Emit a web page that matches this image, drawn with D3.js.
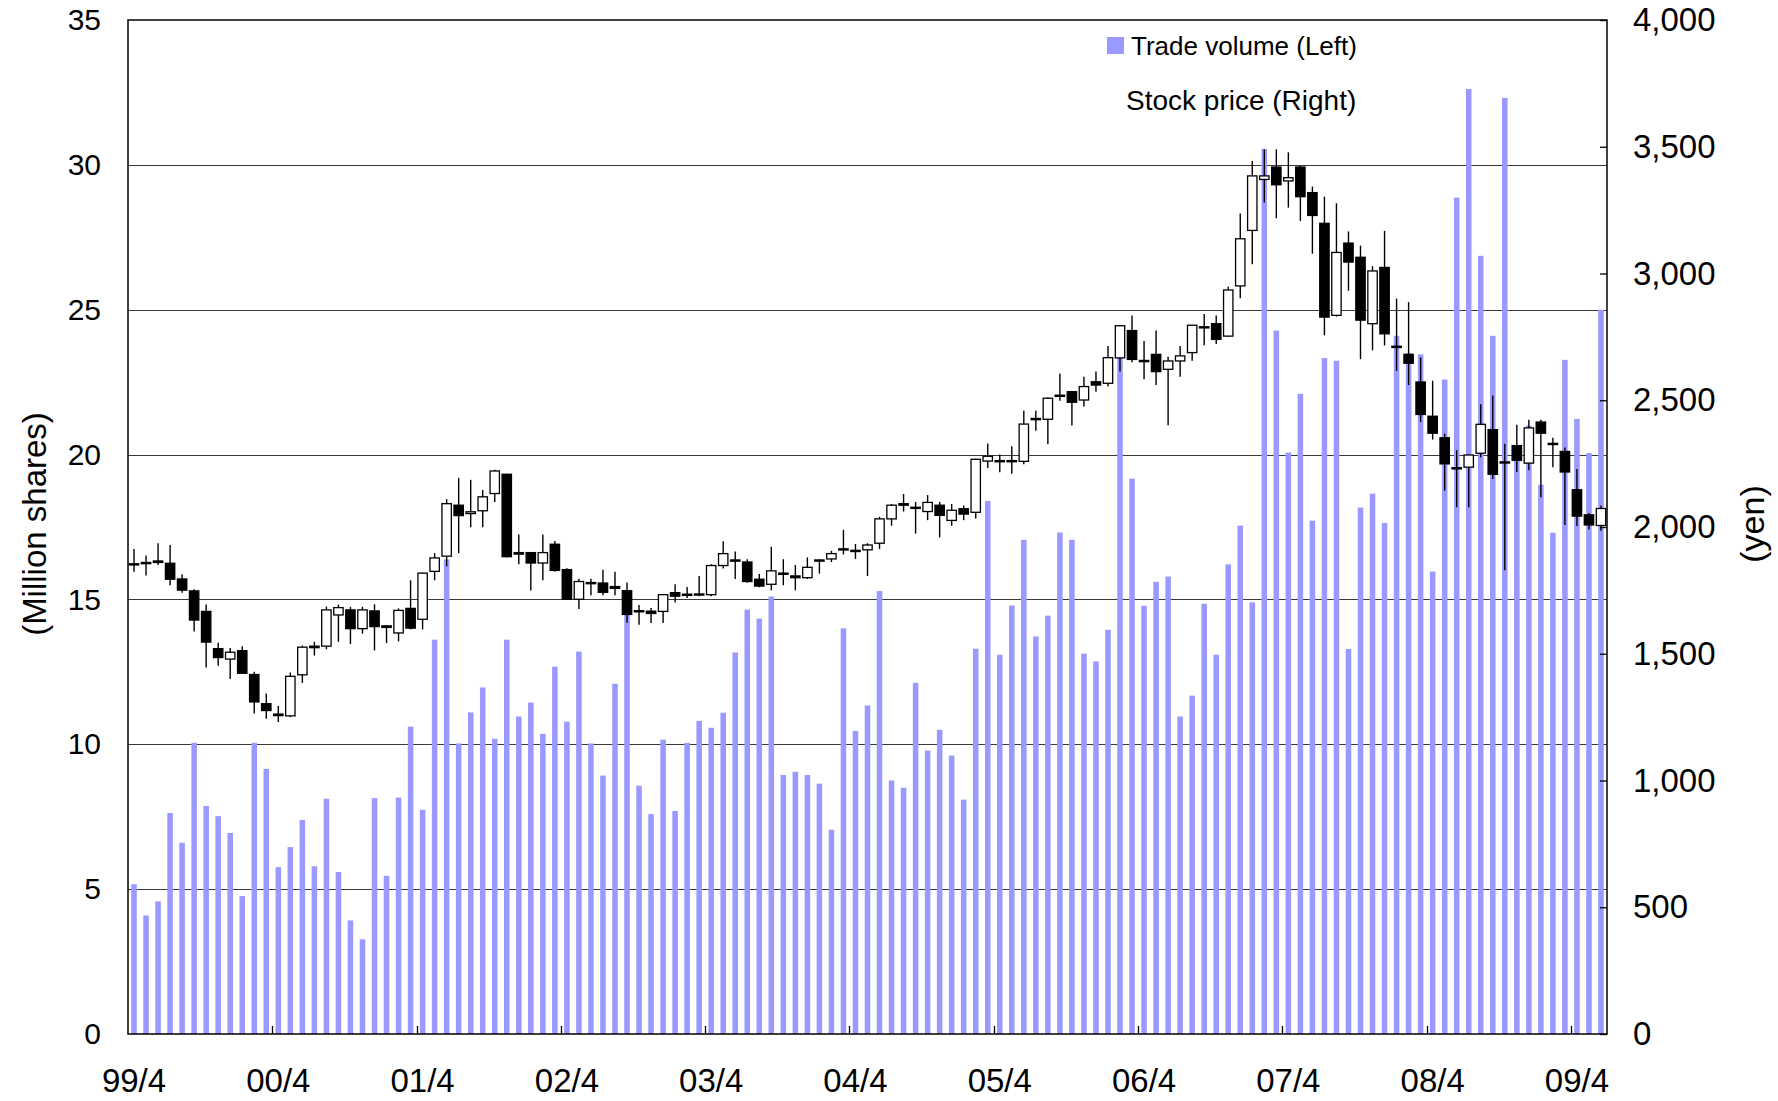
<!DOCTYPE html>
<html>
<head>
<meta charset="utf-8">
<script src="https://cdn.jsdelivr.net/npm/d3@7"></script>
<style>
  html, body { margin: 0; padding: 0; background: #fff; }
  svg { display: block; }
  text { font-family: "Liberation Sans", Arial, sans-serif; fill: #000; }
</style>
</head>
<body>
<svg id="chart" width="1778" height="1101"></svg>
<script>
// Monthly categories, April 1999 – June 2009
const months = [
  "99/4","99/5","99/6","99/7","99/8","99/9","99/10","99/11","99/12",
  "00/1","00/2","00/3","00/4","00/5","00/6","00/7","00/8","00/9","00/10","00/11","00/12",
  "01/1","01/2","01/3","01/4","01/5","01/6","01/7","01/8","01/9","01/10","01/11","01/12",
  "02/1","02/2","02/3","02/4","02/5","02/6","02/7","02/8","02/9","02/10","02/11","02/12",
  "03/1","03/2","03/3","03/4","03/5","03/6","03/7","03/8","03/9","03/10","03/11","03/12",
  "04/1","04/2","04/3","04/4","04/5","04/6","04/7","04/8","04/9","04/10","04/11","04/12",
  "05/1","05/2","05/3","05/4","05/5","05/6","05/7","05/8","05/9","05/10","05/11","05/12",
  "06/1","06/2","06/3","06/4","06/5","06/6","06/7","06/8","06/9","06/10","06/11","06/12",
  "07/1","07/2","07/3","07/4","07/5","07/6","07/7","07/8","07/9","07/10","07/11","07/12",
  "08/1","08/2","08/3","08/4","08/5","08/6","08/7","08/8","08/9","08/10","08/11","08/12",
  "09/1","09/2","09/3","09/4","09/5","09/6"
];

// Monthly trade volume (million shares)
const volume = [
  5.17, 4.09, 4.58, 7.63, 6.60, 10.05, 7.87, 7.52, 6.94,
  4.76, 10.05, 9.15, 5.76, 6.45, 7.39, 5.79, 8.12, 5.59, 3.92, 3.27, 8.14,
  5.46, 8.16, 10.61, 7.74, 13.61, 16.38, 10.03, 11.10, 11.96, 10.19, 13.61, 10.96,
  11.44, 10.36, 12.68, 10.78, 13.20, 10.03, 8.92, 12.09, 14.48, 8.57, 7.59, 10.16,
  7.70, 10.05, 10.81, 10.57, 11.09, 13.17, 14.65, 14.34, 15.10, 8.94, 9.05, 8.94,
  8.64, 7.05, 14.00, 10.46, 11.34, 15.29, 8.75, 8.50, 12.12, 9.78, 10.50, 9.61,
  8.09, 13.30, 18.40, 13.09, 14.79, 17.06, 13.72, 14.44, 17.31, 17.06, 13.13, 12.86,
  13.95, 23.80, 19.17, 14.78, 15.61, 15.79, 10.96, 11.68, 14.85, 13.09, 16.21, 17.55,
  14.90, 30.55, 24.28, 20.07, 22.10, 17.72, 23.33, 23.24, 13.29, 18.17, 18.65, 17.64,
  24.10, 23.50, 23.46, 15.96, 22.59, 28.87, 32.62, 26.86, 24.10, 32.31, 20.10, 21.00,
  18.96, 17.30, 23.27, 21.23, 20.05, 25.00
];

// Monthly stock price (yen): open, high, low, close
const priceOpen = [
  1854, 1856, 1866, 1857, 1795, 1748, 1667, 1520, 1479,
  1512, 1418, 1303, 1262, 1255, 1417, 1530, 1530, 1653, 1673, 1599, 1669,
  1610, 1582, 1679, 1636, 1825, 1885, 2086, 2053, 2064, 2132, 2208, 1899,
  1899, 1858, 1932, 1832, 1715, 1777, 1779, 1765, 1749, 1670, 1668, 1667,
  1741, 1733, 1733, 1733, 1848, 1870, 1862, 1794, 1774, 1815, 1807, 1800,
  1866, 1874, 1910, 1905, 1910, 1936, 2032, 2092, 2076, 2061, 2086, 2026,
  2072, 2058, 2260, 2260, 2258, 2259, 2424, 2425, 2516, 2534, 2501, 2573,
  2567, 2667, 2775, 2655, 2681, 2622, 2655, 2688, 2786, 2802, 2753, 2951,
  3170, 3371, 3420, 3365, 3420, 3319, 3198, 2835, 3120, 3064, 2802, 3024,
  2713, 2681, 2572, 2437, 2352, 2234, 2236, 2291, 2384, 2255, 2321, 2252,
  2414, 2326, 2298, 2147, 2048, 2006
];
const priceHigh = [
  1913, 1888, 1936, 1929, 1814, 1754, 1694, 1543, 1523,
  1530, 1429, 1343, 1294, 1426, 1532, 1547, 1686, 1694, 1685, 1685, 1695,
  1612, 1679, 1790, 1820, 1897, 2110, 2194, 2186, 2146, 2226, 2210, 1970,
  1900, 1970, 1945, 1837, 1796, 1796, 1831, 1823, 1781, 1692, 1680, 1735,
  1774, 1763, 1807, 1853, 1944, 1903, 1873, 1815, 1922, 1873, 1850, 1880,
  1873, 1906, 1989, 1933, 1936, 2040, 2091, 2130, 2099, 2126, 2099, 2091,
  2085, 2270, 2329, 2286, 2319, 2459, 2459, 2512, 2606, 2536, 2593, 2613,
  2714, 2796, 2834, 2734, 2775, 2672, 2714, 2797, 2840, 2834, 2948, 3237,
  3444, 3490, 3490, 3478, 3424, 3343, 3303, 3277, 3166, 3110, 3029, 3168,
  2901, 2887, 2669, 2577, 2368, 2303, 2285, 2484, 2519, 2328, 2403, 2423,
  2423, 2352, 2314, 2229, 2055, 2085
];
const priceLow = [
  1823, 1809, 1850, 1770, 1741, 1588, 1446, 1453, 1400,
  1423, 1264, 1244, 1231, 1250, 1385, 1493, 1518, 1547, 1538, 1579, 1513,
  1542, 1549, 1596, 1596, 1790, 1845, 1897, 1999, 1999, 2099, 1880, 1853,
  1750, 1790, 1823, 1712, 1677, 1731, 1731, 1731, 1622, 1614, 1621, 1621,
  1702, 1720, 1727, 1727, 1836, 1795, 1780, 1762, 1750, 1770, 1750, 1795,
  1816, 1862, 1892, 1874, 1807, 1913, 2005, 2061, 1974, 2027, 1959, 2005,
  2027, 2034, 2233, 2216, 2210, 2248, 2380, 2326, 2498, 2400, 2475, 2534,
  2554, 2613, 2650, 2583, 2560, 2401, 2593, 2656, 2717, 2722, 2751, 2902,
  3036, 3280, 3218, 3260, 3207, 3078, 2756, 2830, 2932, 2662, 2697, 2716,
  2616, 2560, 2414, 2345, 2143, 2078, 2078, 2275, 2189, 1829, 2217, 2224,
  2117, 2236, 2008, 2004, 1990, 1985
];
const priceClose = [
  1855, 1860, 1860, 1794, 1751, 1633, 1546, 1485, 1506,
  1423, 1310, 1276, 1256, 1411, 1526, 1524, 1673, 1682, 1599, 1673, 1607,
  1604, 1671, 1601, 1818, 1878, 2092, 2045, 2060, 2119, 2221, 1883, 1893,
  1858, 1899, 1829, 1715, 1785, 1781, 1742, 1758, 1655, 1666, 1659, 1733,
  1727, 1735, 1736, 1848, 1895, 1866, 1785, 1767, 1827, 1818, 1800, 1841,
  1870, 1895, 1914, 1908, 1929, 2032, 2086, 2086, 2078, 2097, 2046, 2066,
  2051, 2267, 2279, 2262, 2262, 2406, 2428, 2508, 2520, 2492, 2554, 2560,
  2668, 2794, 2661, 2657, 2613, 2655, 2675, 2796, 2790, 2740, 2935, 3137,
  3385, 3385, 3350, 3378, 3303, 3229, 2828, 3083, 3045, 2816, 3010, 2762,
  2711, 2646, 2444, 2370, 2249, 2233, 2284, 2405, 2208, 2257, 2263, 2391,
  2370, 2330, 2217, 2043, 2008, 2073
];

// Axis tick values and labels
const volumeTicks = [0, 5, 10, 15, 20, 25, 30, 35];
const priceTicks = [0, 500, 1000, 1500, 2000, 2500, 3000, 3500, 4000];
const monthLabels = ["99/4","00/4","01/4","02/4","03/4","04/4","05/4","06/4","07/4","08/4","09/4"];

const svg = d3.select("#chart");
const plot = { left: 128, right: 1607, top: 20, bottom: 1034 };

const x = d3.scaleBand().domain(months).range([plot.left, plot.right]).padding(0);
const yVol = d3.scaleLinear().domain([0, 35]).range([plot.bottom, plot.top]);
const yPrice = d3.scaleLinear().domain([0, 4000]).range([plot.bottom, plot.top]);

const bw = x.bandwidth();
const barW = bw * 0.46;
const bodyW = bw * 0.78;

// Horizontal gridlines on the volume scale
svg.append("g")
  .selectAll("line")
  .data(volumeTicks.filter(v => v > 0 && v < 35))
  .join("line")
  .attr("x1", plot.left).attr("x2", plot.right)
  .attr("y1", d => Math.round(yVol(d)) + 0.5)
  .attr("y2", d => Math.round(yVol(d)) + 0.5)
  .attr("stroke", "#3a3a3a").attr("stroke-width", 1);

// Volume bars
const rows = months.map((m, i) => ({
  m, v: volume[i], o: priceOpen[i], h: priceHigh[i], l: priceLow[i], c: priceClose[i]
}));

svg.append("g")
  .selectAll("rect")
  .data(rows)
  .join("rect")
  .attr("x", d => x(d.m) + (bw - barW) / 2)
  .attr("width", barW)
  .attr("y", d => yVol(d.v))
  .attr("height", d => yVol(0) - yVol(d.v))
  .attr("fill", "#9999ff");

// Candlesticks: wicks, then bodies
const candles = svg.append("g");
candles.selectAll("line")
  .data(rows)
  .join("line")
  .attr("x1", d => x(d.m) + bw / 2)
  .attr("x2", d => x(d.m) + bw / 2)
  .attr("y1", d => yPrice(d.h))
  .attr("y2", d => yPrice(d.l))
  .attr("stroke", "#000").attr("stroke-width", 1.4);

candles.selectAll("rect")
  .data(rows)
  .join("rect")
  .attr("x", d => x(d.m) + (bw - bodyW) / 2)
  .attr("width", bodyW)
  .attr("y", d => yPrice(Math.max(d.o, d.c)))
  .attr("height", d => Math.max(1.2, Math.abs(yPrice(d.o) - yPrice(d.c))))
  .attr("fill", d => d.c < d.o ? "#000" : "#fff")
  .attr("stroke", "#000")
  .attr("stroke-width", 1.3);

// Plot frame
svg.append("rect")
  .attr("x", plot.left).attr("y", plot.top)
  .attr("width", plot.right - plot.left).attr("height", plot.bottom - plot.top)
  .attr("fill", "none").attr("stroke", "#000").attr("stroke-width", 1.5);

const fontStack = "'Liberation Sans', Arial, sans-serif";

// Left axis (volume)
const leftAxis = svg.append("g")
  .attr("transform", `translate(${plot.left},0)`)
  .call(d3.axisLeft(yVol).tickValues(volumeTicks).tickSizeInner(0).tickSizeOuter(0).tickPadding(27));
leftAxis.select(".domain").remove();
leftAxis.selectAll("text").attr("font-size", 30).style("font-family", fontStack);

// Right axis (price)
const rightAxis = svg.append("g")
  .attr("transform", `translate(${plot.right},0)`)
  .call(d3.axisRight(yPrice).tickValues(priceTicks).tickFormat(d3.format(","))
    .tickSizeInner(-7).tickSizeOuter(0).tickPadding(26));
rightAxis.select(".domain").remove();
rightAxis.selectAll("line").attr("stroke", "#000").attr("stroke-width", 1.3);
rightAxis.selectAll("text").attr("font-size", 33).style("font-family", fontStack);

// Bottom axis: ticks at the start of each April, labels centred on the month
const aprilStarts = monthLabels.slice(1);
svg.append("g")
  .selectAll("line")
  .data(aprilStarts)
  .join("line")
  .attr("x1", d => Math.round(x(d)) + 0.5)
  .attr("x2", d => Math.round(x(d)) + 0.5)
  .attr("y1", plot.bottom).attr("y2", plot.bottom - 8)
  .attr("stroke", "#000").attr("stroke-width", 1.3);

const bottomAxis = svg.append("g")
  .attr("transform", `translate(0,${plot.bottom})`)
  .call(d3.axisBottom(x).tickValues(monthLabels).tickSize(0).tickPadding(35));
bottomAxis.select(".domain").remove();
bottomAxis.selectAll("text").attr("font-size", 33).style("font-family", fontStack);

// Axis titles
svg.append("text")
  .attr("transform", "translate(34,524) rotate(-90)")
  .attr("text-anchor", "middle").attr("dominant-baseline", "central")
  .attr("font-size", 33)
  .text("(Million shares)");

svg.append("text")
  .attr("transform", "translate(1752,524) rotate(-90)")
  .attr("text-anchor", "middle").attr("dominant-baseline", "central")
  .attr("font-size", 34)
  .text("(yen)");

// Legend
const legend = svg.append("g");
legend.append("rect")
  .attr("x", 1107).attr("y", 37).attr("width", 17).attr("height", 17)
  .attr("fill", "#9999ff");
legend.append("text")
  .attr("x", 1131).attr("y", 46).attr("dominant-baseline", "central")
  .attr("font-size", 26)
  .text("Trade volume (Left)");
legend.append("text")
  .attr("x", 1126).attr("y", 100).attr("dominant-baseline", "central")
  .attr("font-size", 28)
  .text("Stock price (Right)");
</script>
</body>
</html>
